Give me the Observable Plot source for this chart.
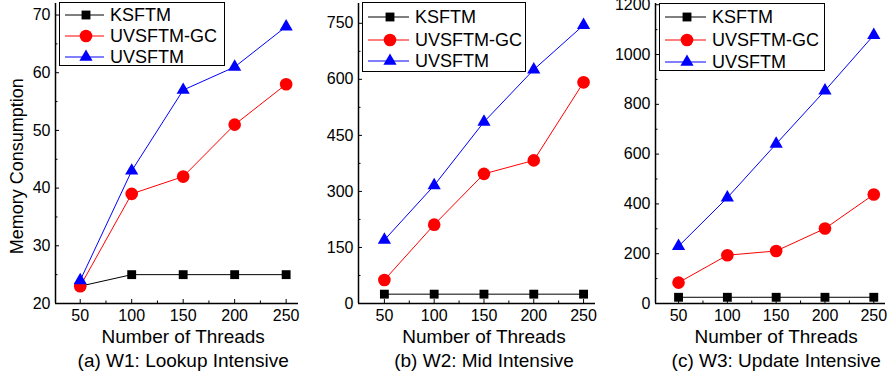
<!DOCTYPE html>
<html><head><meta charset="utf-8">
<script src="https://cdn.jsdelivr.net/npm/d3@7"></script>
<script src="https://cdn.jsdelivr.net/npm/@observablehq/plot@0.6"></script>
<style>
html,body{margin:0;padding:0;background:#fff;}
#wrap{position:relative;width:890px;height:378px;overflow:hidden;font-family:"Liberation Sans",Arial,sans-serif;}
.panel{position:absolute;top:0;}
.legend{position:absolute;border:1px solid #000;background:#fff;box-sizing:border-box;}
.row{position:absolute;left:0;height:20px;}
.row span{position:absolute;font-size:18px;line-height:20px;white-space:nowrap;color:#000;}
</style>
</head><body>
<div id="wrap"></div>
<script>
// ---- data ----
const threads = [50, 100, 150, 200, 250];
const seriesNames = ["KSFTM", "UVSFTM-GC", "UVSFTM"];
const seriesColors = ["#000000", "#ff0000", "#0000ff"];
const seriesSymbols = ["square", "circle", "triangle"];

const w1KSFTM = [23, 25, 25, 25, 25];
const w1GC    = [23, 39, 42, 51, 58];
const w1UV    = [24, 43, 57, 61, 68];

const w2KSFTM = [25, 25, 25, 25, 25];
const w2GC    = [63, 211, 347, 383, 592];
const w2UV    = [170, 316, 486, 626, 745];

const w3KSFTM = [25, 25, 25, 25, 25];
const w3GC    = [84, 194, 211, 301, 438];
const w3UV    = [230, 425, 641, 855, 1078];

const yTicksA = [20, 30, 40, 50, 60, 70];
const yMinorA = [25, 35, 45, 55, 65];
const yTicksB = [0, 150, 300, 450, 600, 750];
const yMinorB = [75, 225, 375, 525, 675];
const yTicksC = [0, 200, 400, 600, 800, 1000, 1200];
const yMinorC = [100, 300, 500, 700, 900, 1100];
const xMinor = [75, 125, 175, 225];

const captions = ["(a) W1: Lookup Intensive", "(b) W2: Mid Intensive", "(c) W3: Update Intensive"];
const xLabel = "Number of Threads";
const yLabel = "Memory Consumption";

const FONT = '"Liberation Sans", Arial, sans-serif';
const rSize = {square: 5, circle: 6.3, triangle: 4.9};
const plain = d => String(d);

function rows(ks, gc, uv) {
  const cols = [ks, gc, uv];
  return seriesNames.flatMap((s, j) => threads.map((t, i) => ({s, t, v: cols[j][i]})));
}

function panel(cfg) {
  const data = rows(cfg.ks, cfg.gc, cfg.uv);
  const marks = [
    Plot.ruleY([cfg.yDomain[0]], {stroke: "#000", strokeWidth: 1.5}),
    Plot.ruleX([cfg.xDomain[0]], {stroke: "#000", strokeWidth: 1.5}),
    Plot.axisY(cfg.yTicks, {anchor: "left", tickSize: -4, tickPadding: 9, fontSize: 16, label: null, fill: "#000", tickFormat: plain}),
    Plot.axisY(cfg.yMinor, {anchor: "left", tickSize: -2.5, tickFormat: () => "", label: null}),
    Plot.axisX(threads, {anchor: "bottom", tickSize: -4, tickPadding: 10, fontSize: 16, label: null, tickFormat: plain}),
    Plot.axisX(xMinor, {anchor: "bottom", tickSize: -2.5, tickFormat: () => "", label: null}),
  ];
  seriesNames.forEach((s, j) => {
    const d = data.filter(r => r.s === s);
    marks.push(Plot.line(d, {x: "t", y: "v", stroke: seriesColors[j], strokeWidth: 1}));
  });
  seriesNames.forEach((s, j) => {
    const d = data.filter(r => r.s === s);
    marks.push(Plot.dot(d, {x: "t", y: "v", symbol: () => seriesSymbols[j], fill: seriesColors[j], stroke: "none", r: rSize[seriesSymbols[j]]}));
  });
  marks.push(Plot.text([{x: 150, t: xLabel}], {x: "x", text: "t", frameAnchor: "bottom", dy: 33, fontSize: 19, lineAnchor: "middle", textAnchor: "middle", fill: "#000"}));
  marks.push(Plot.text([{x: 150, t: cfg.caption}], {x: "x", text: "t", frameAnchor: "bottom", dy: 57, fontSize: 19, lineAnchor: "middle", textAnchor: "middle", fill: "#000"}));
  if (cfg.ylabel) {
    marks.push(Plot.text([{y: cfg.ylabelY, t: cfg.ylabel}], {y: "y", text: "t", frameAnchor: "left", textAnchor: "middle", dx: -38, rotate: -90, fontSize: 18, lineAnchor: "middle", fill: "#000"}));
  }
  const svg = Plot.plot({
    width: cfg.width, height: 378,
    marginLeft: cfg.marginLeft, marginRight: cfg.marginRight, marginTop: 3, marginBottom: 75,
    x: {domain: cfg.xDomain, axis: null},
    y: {domain: cfg.yDomain, axis: null},
    symbol: {type: "identity"},
    style: {fontFamily: FONT, background: "transparent", color: "#000", overflow: "visible"},
    marks
  });
  const div = document.createElement("div");
  div.className = "panel";
  div.style.left = cfg.left + "px";
  div.appendChild(svg);
  document.getElementById("wrap").appendChild(div);
}

function legend(left, top, w, h, textOffset, rowYs) {
  const box = document.createElement("div");
  box.className = "legend";
  Object.assign(box.style, {left: left + "px", top: top + "px", width: w + "px", height: h + "px"});
  seriesNames.forEach((s, j) => {
    const row = document.createElement("div");
    row.className = "row";
    row.style.top = (rowYs[j] - 10) + "px";
    row.style.width = w + "px";
    const sym = d3.symbol(seriesSymbols[j] === "square" ? d3.symbolSquare : seriesSymbols[j] === "circle" ? d3.symbolCircle : d3.symbolTriangle,
      Math.PI * rSize[seriesSymbols[j]] ** 2)();
    const mx = (textOffset - 6) / 2 + 4;
    row.innerHTML = `<svg width="${textOffset}" height="20" style="position:absolute;left:0;top:0">
      <line x1="5" x2="${textOffset - 6}" y1="10" y2="10" stroke="${seriesColors[j]}" stroke-width="1"/>
      <path d="${sym}" transform="translate(${mx},10)" fill="${seriesColors[j]}"/></svg>
      <span style="left:${textOffset}px;top:0">${s}</span>`;
    box.appendChild(row);
  });
  document.getElementById("wrap").appendChild(box);
}

panel({left: 0, width: 300, marginLeft: 55, marginRight: 2, xDomain: [26, 262], yDomain: [20, 72],
  yTicks: yTicksA, yMinor: yMinorA, ks: w1KSFTM, gc: w1GC, uv: w1UV, caption: captions[0], ylabel: yLabel, ylabelY: 43.8});
panel({left: 300, width: 300, marginLeft: 58, marginRight: 5, xDomain: [24, 262], yDomain: [0, 803],
  yTicks: yTicksB, yMinor: yMinorB, ks: w2KSFTM, gc: w2GC, uv: w2UV, caption: captions[1]});
panel({left: 600, width: 290, marginLeft: 55, marginRight: 5, xDomain: [26.4, 262], yDomain: [0, 1205],
  yTicks: yTicksC, yMinor: yMinorC, ks: w3KSFTM, gc: w3GC, uv: w3UV, caption: captions[2]});

legend(59, 2, 166, 64, 50, [12, 33, 54]);
legend(362, 2, 164, 70, 52, [14, 37, 58]);
legend(659, 3, 166, 68, 52, [13, 36, 58]);
</script>
</body></html>
